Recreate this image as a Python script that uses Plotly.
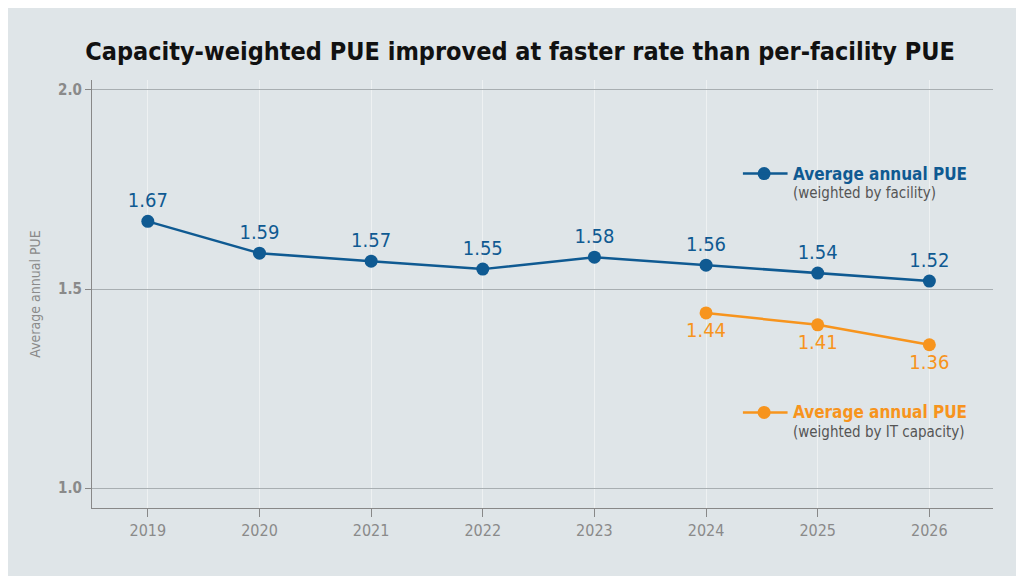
import plotly.graph_objects as go

years = [2019, 2020, 2021, 2022, 2023, 2024, 2025, 2026]
pue_facility = [1.67, 1.59, 1.57, 1.55, 1.58, 1.56, 1.54, 1.52]
cap_years = [2024, 2025, 2026]
pue_capacity = [1.44, 1.41, 1.36]

BLUE = "#0f5a92"
ORANGE = "#f7941d"
BG = "#dfe5e8"
FONT = "DejaVu Sans Condensed, Open Sans, sans-serif"

fig = go.Figure()
fig.add_trace(go.Scatter(
    x=years, y=pue_facility, mode="lines+markers+text",
    line=dict(color=BLUE, width=2.5), marker=dict(size=13, color=BLUE),
    text=[f"{v:.2f}" for v in pue_facility], textposition="top center",
    textfont=dict(color=BLUE, size=20, family=FONT), cliponaxis=False,
))
fig.add_trace(go.Scatter(
    x=cap_years, y=pue_capacity, mode="lines+markers+text",
    line=dict(color=ORANGE, width=2.5), marker=dict(size=13, color=ORANGE),
    text=[f"{v:.2f}" for v in pue_capacity], textposition="bottom center",
    textfont=dict(color=ORANGE, size=20, family=FONT), cliponaxis=False,
))

# legend drawn by hand on the right
for y, color, sub in [(1.79, BLUE, "(weighted by facility)"),
                      (1.19, ORANGE, "(weighted by IT capacity)")]:
    fig.add_shape(type="line", x0=2024.33, x1=2024.73, y0=y, y1=y,
                  line=dict(color=color, width=2.5))
    fig.add_trace(go.Scatter(x=[2024.52], y=[y], mode="markers",
                             marker=dict(size=13, color=color), hoverinfo="skip"))
    fig.add_annotation(x=2024.76, y=y, text="<b>Average annual PUE</b>", showarrow=False,
                       xanchor="left", yanchor="middle",
                       font=dict(color=color, size=17, family=FONT))
    fig.add_annotation(x=2024.76, y=y - 0.048, text=sub, showarrow=False,
                       xanchor="left", yanchor="middle",
                       font=dict(color="#555555", size=15, family=FONT))

fig.update_layout(
    width=1024, height=576, showlegend=False,
    paper_bgcolor=BG, plot_bgcolor=BG,
    margin=dict(l=84, r=39, t=72, b=76),
    title=dict(text="<b>Capacity-weighted PUE improved at faster rate than per-facility PUE</b>",
               x=0.5, y=0.94, xanchor="center",
               font=dict(size=25, color="#111111", family=FONT)),
    font=dict(family=FONT),
)
fig.update_xaxes(range=[2018.5, 2026.57], tickvals=years, showgrid=True,
                 gridcolor="#eef1f2", gridwidth=1.2, zeroline=False,
                 showline=True, linecolor="#888888", ticks="outside", ticklen=8,
                 tickcolor="#888888", tickprefix="<b>", ticksuffix="</b>",
                 tickfont=dict(size=16, color="#8a8a8a"))
fig.update_yaxes(range=[0.95, 2.025], tickvals=[1.0, 1.5, 2.0],
                 ticktext=["<b>1.0</b>", "<b>1.5</b>", "<b>2.0</b>"], showgrid=True,
                 gridcolor="#a8aeb1", zeroline=False, showline=True, linecolor="#888888",
                 ticks="outside", ticklen=6, tickcolor="#888888",
                 tickfont=dict(size=15, color="#8a8a8a"),
                 title=dict(text="Average annual PUE", standoff=14,
                            font=dict(size=14, color="#8a8a8a")))

fig.write_html("out.html")
